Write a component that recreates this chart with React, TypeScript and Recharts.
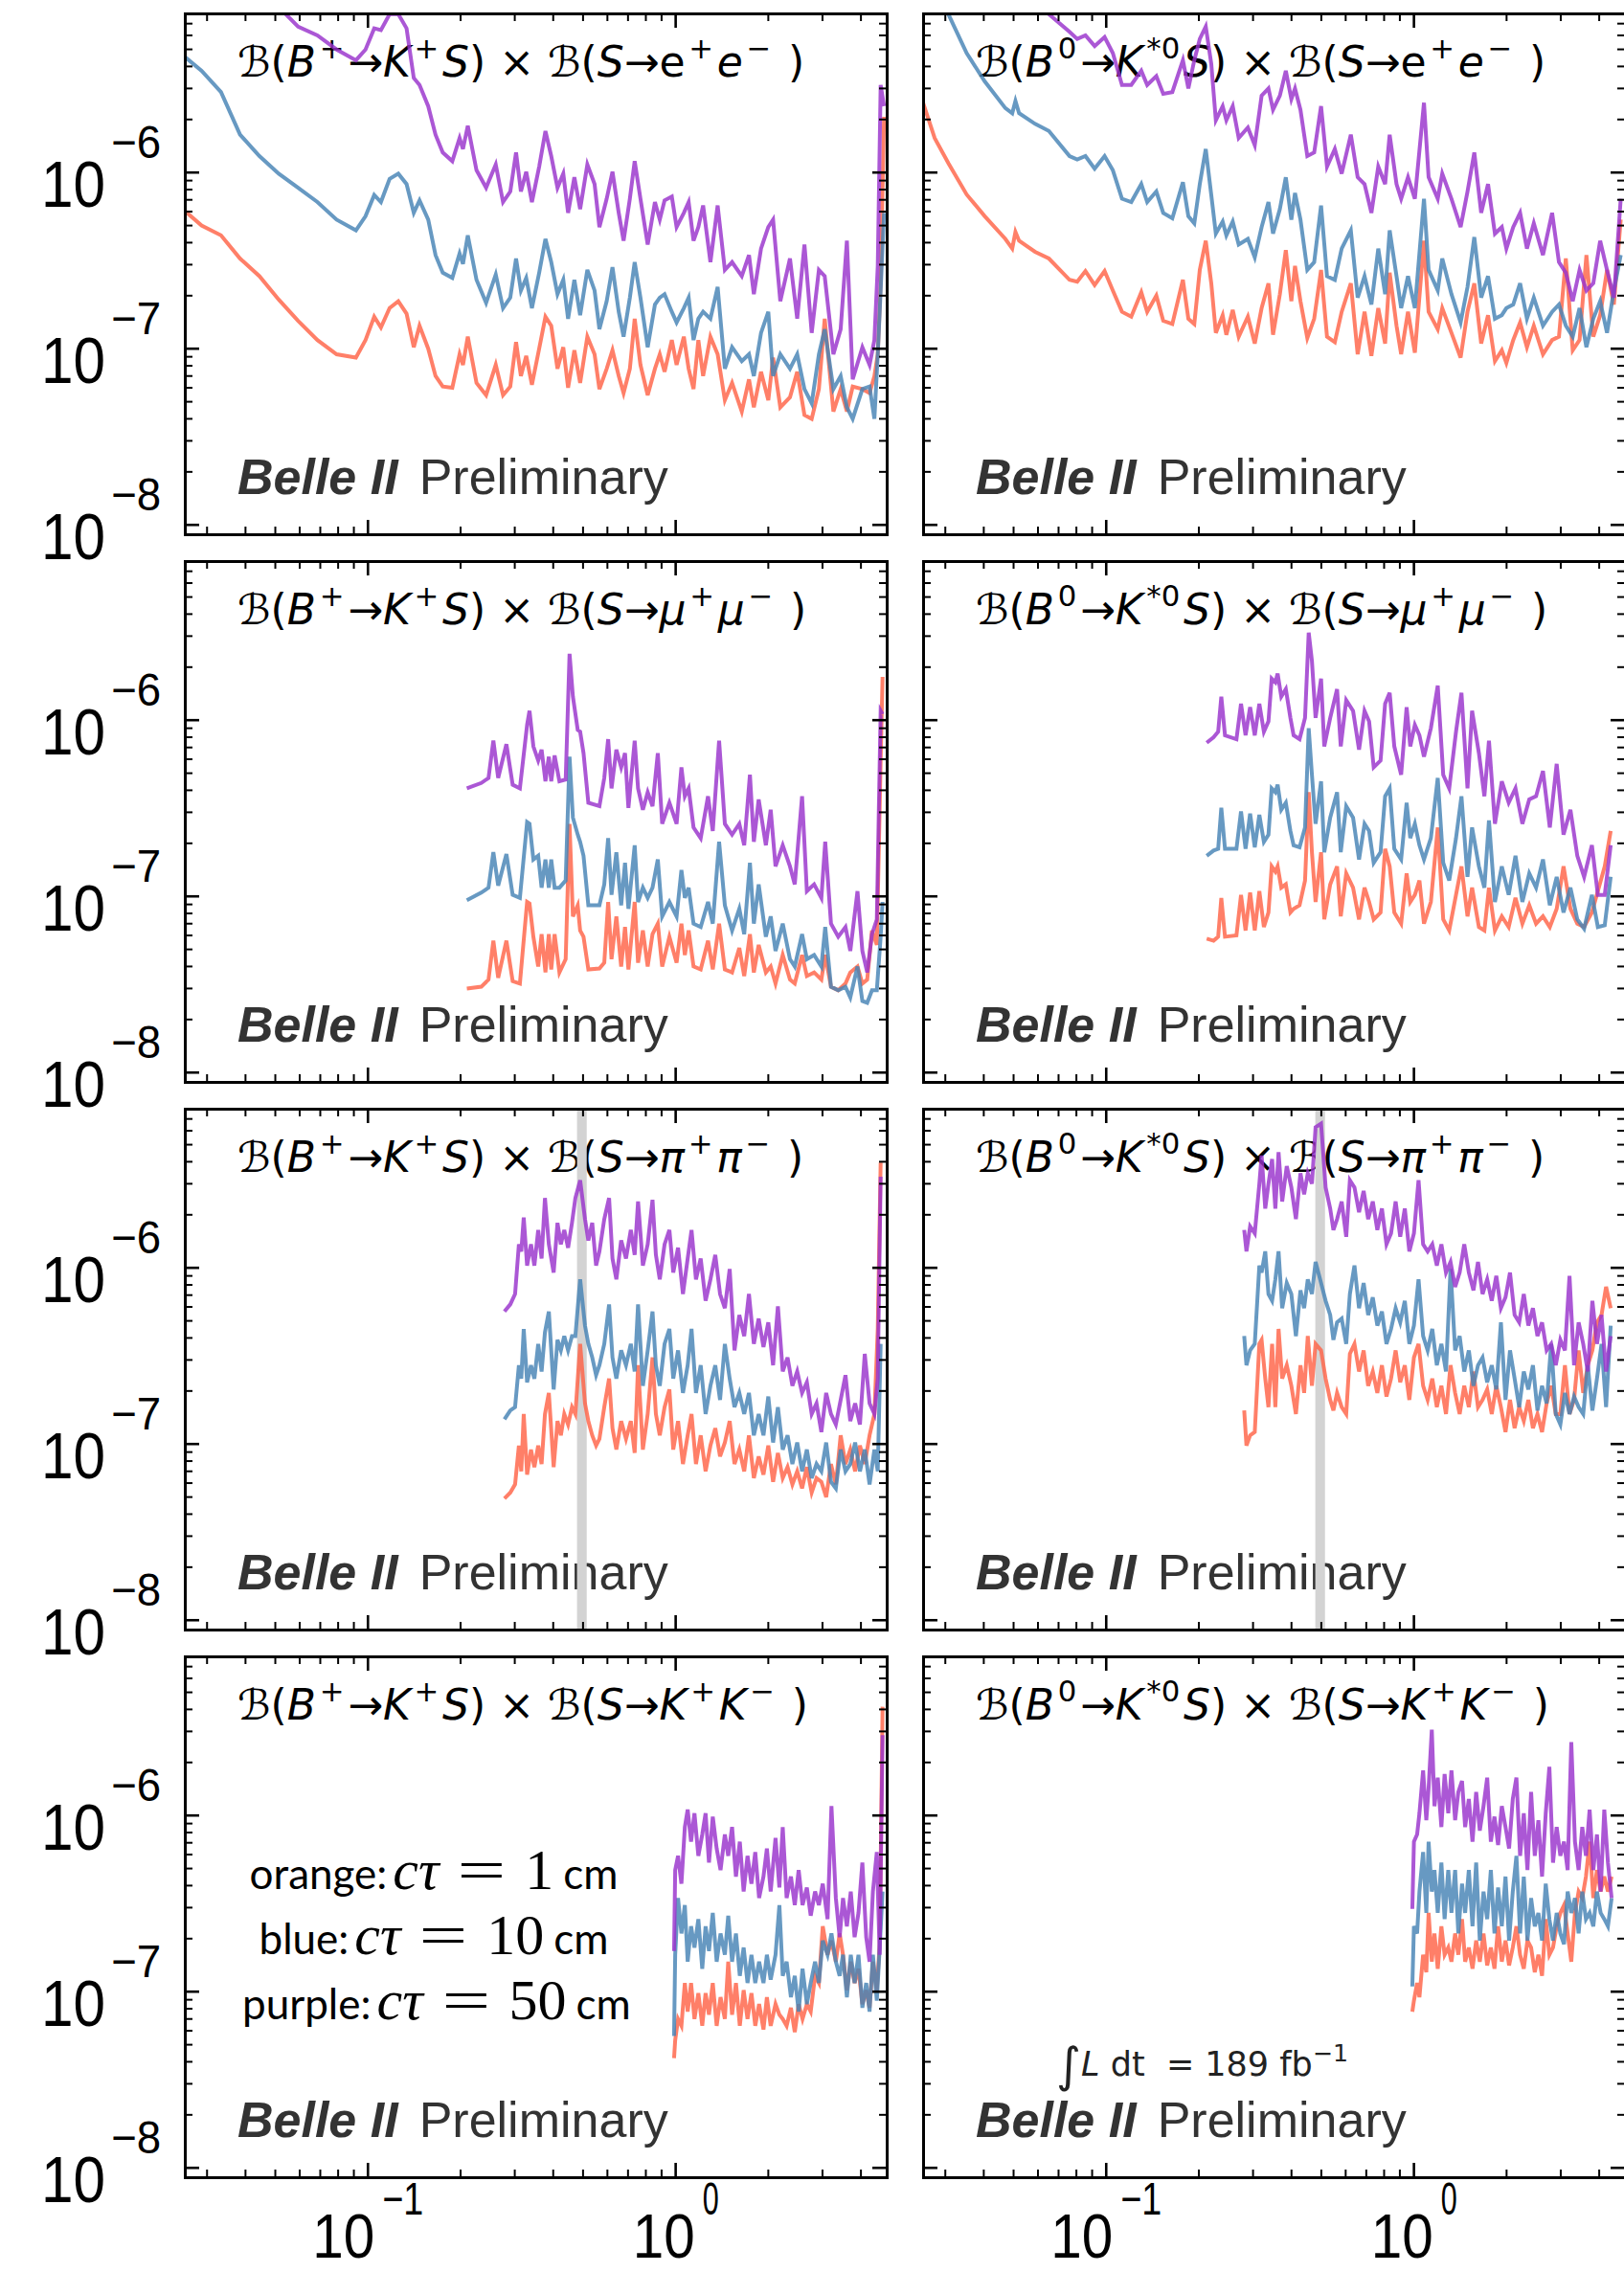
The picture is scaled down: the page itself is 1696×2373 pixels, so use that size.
import React from "react";
import { LineChart, Line, XAxis, YAxis, ReferenceArea } from "recharts";

// all branching-fraction values below are in units of 1e-8
const UNIT = 1e-8;

const X_DOMAIN: [number, number] = [0.0254, 4.85];
const Y_DOMAIN: [number, number] = [8.85e-9, 8e-6];
const X_TICKS = [0.03, 0.04, 0.05, 0.06, 0.07, 0.08, 0.09, 0.1, 0.2, 0.3, 0.4, 0.5, 0.6, 0.7, 0.8, 0.9, 1, 2, 3, 4];
const Y_TICKS = [
  1e-8, 2e-8, 3e-8, 4e-8, 5e-8, 6e-8, 7e-8, 8e-8, 9e-8,
  1e-7, 2e-7, 3e-7, 4e-7, 5e-7, 6e-7, 7e-7, 8e-7, 9e-7,
  1e-6, 2e-6, 3e-6, 4e-6, 5e-6, 6e-6, 7e-6,
];
const KS_VETO: [number, number] = [0.478, 0.514];

const COLORS = { orange: "tomato", blue: "steelblue", purple: "darkorchid" };

// B+ -> K+ S, S -> e+ e-
const kpEeMass = [0.0254, 0.0288, 0.0333, 0.0384, 0.0444, 0.0513, 0.0593, 0.0685, 0.0791, 0.0914, 0.0982, 0.1048, 0.1102, 0.1176, 0.1255, 0.1335, 0.1409, 0.1471, 0.157, 0.1658, 0.175, 0.188, 0.1985, 0.2036, 0.2111, 0.2253, 0.2421, 0.2602, 0.2748, 0.2901, 0.3029, 0.3141, 0.3268, 0.3411, 0.3601, 0.3774, 0.3941, 0.413, 0.4313, 0.4471, 0.4686, 0.4893, 0.5164, 0.5451, 0.5652, 0.5968, 0.6232, 0.6531, 0.6772, 0.7098, 0.7359, 0.7683, 0.8111, 0.8563, 0.8878, 0.9203, 0.9716, 1.007, 1.063, 1.102, 1.143, 1.185, 1.228, 1.297, 1.369, 1.445, 1.525, 1.64, 1.731, 1.795, 1.894, 2.0, 2.073, 2.188, 2.352, 2.483, 2.621, 2.767, 2.92, 3.05, 3.255, 3.437, 3.601, 3.761, 4.043, 4.267, 4.424, 4.537, 4.636, 4.755];
const kpEeOrange = [60.5, 50, 44, 32.5, 25.8, 19, 14.4, 11.2, 9.3, 8.9, 11.2, 15.2, 13.2, 17, 18.6, 15.8, 10.2, 13.5, 10, 7.0, 6.1, 6.0, 9.3, 8.1, 11.7, 6.4, 5.45, 8.1, 5.45, 6.1, 10.9, 7.0, 9.1, 6.25, 10, 15.2, 13.5, 7.7, 10.2, 6.0, 9.8, 6.4, 11.7, 9.3, 5.9, 7.7, 9.8, 7.0, 5.6, 7.7, 14.8, 8.1, 5.45, 7.7, 9.3, 7.4, 11.2, 8.1, 11.7, 7.7, 5.9, 11.2, 7.0, 11.7, 9.3, 5.1, 6.4, 4.4, 6.7, 4.65, 7.4, 5.1, 8.9, 4.65, 5.3, 7.4, 4.2, 4.0, 5.9, 14.8, 4.4, 5.9, 4.4, 6.1, 5.9, 5.6, 7.0, 9.3, 23.5, 207];
const kpEeBlue = [454, 378, 286, 164, 124, 98.5, 82, 68, 54, 47, 56.5, 74.5, 68, 92, 98.5, 86, 59, 69.5, 54, 34, 27, 25.2, 34.7, 30.3, 44, 24.6, 18.2, 26.4, 17, 19.5, 32.5, 21.4, 25.2, 17, 27, 42, 31, 20.4, 24.6, 14.8, 24.6, 15.5, 28, 21.4, 12.9, 18.6, 29, 16.2, 11.7, 19.5, 31, 19.5, 10.2, 17.8, 19.5, 20.4, 16.2, 14.1, 17, 19.5, 11.2, 14.8, 16.2, 14.8, 22.4, 7.7, 10.2, 8.5, 9.3, 7.0, 12.3, 16.2, 7.0, 9.3, 7.7, 9.3, 5.9, 4.9, 9.3, 12.9, 5.9, 7.0, 4.65, 4.0, 5.9, 6.1, 4.0, 9.3, 21.4, 59];
const kpEePurple = [2400, 2000, 1580, 1260, 1050, 869, 673, 600, 499, 434, 499, 658, 643, 792, 792, 658, 344, 314, 238, 164, 130, 116, 157, 136, 184, 103, 82, 111, 68, 78, 130, 78, 101, 68, 108, 172, 124, 82, 98.5, 59, 94, 62, 111, 86, 49, 71, 101, 59, 41, 71, 116, 71, 39, 68, 54, 69.5, 73, 49, 59, 68, 41, 49, 65, 31, 65, 28, 31, 25.8, 34, 20.4, 37, 49, 54, 18.6, 32.5, 14.8, 39, 12.3, 28, 25.8, 9.3, 12.9, 41, 6.7, 10.2, 8.1, 11.2, 29.5, 314, 238];

// B0 -> K*0 S, S -> e+ e-
const kstEeMass = [0.0254, 0.0277, 0.0307, 0.0352, 0.0403, 0.047, 0.0495, 0.0507, 0.0521, 0.0587, 0.0651, 0.076, 0.0805, 0.0856, 0.0917, 0.0988, 0.1051, 0.1125, 0.1206, 0.13, 0.1359, 0.1455, 0.1532, 0.164, 0.1775, 0.1849, 0.1933, 0.2014, 0.2106, 0.2195, 0.2271, 0.239, 0.2457, 0.2577, 0.2695, 0.2886, 0.3039, 0.3199, 0.3367, 0.3484, 0.3667, 0.3834, 0.3996, 0.4107, 0.4278, 0.4503, 0.4741, 0.4991, 0.5218, 0.5532, 0.5823, 0.6236, 0.6564, 0.691, 0.7274, 0.7657, 0.806, 0.8339, 0.8778, 0.9087, 0.9565, 1.007, 1.078, 1.116, 1.195, 1.236, 1.324, 1.418, 1.493, 1.571, 1.654, 1.741, 1.833, 1.93, 1.997, 2.102, 2.213, 2.329, 2.452, 2.626, 2.812, 2.96, 3.116, 3.281, 3.453, 3.635, 3.827, 4.029, 4.241, 4.464, 4.699];
const kstEeOrange = [249, 157, 113, 75, 56.5, 42, 37, 46, 41, 35.5, 32.5, 24.6, 24, 27.6, 23, 27.6, 21.4, 16.2, 15.2, 20.9, 16.2, 20, 14.4, 13.8, 24.6, 14.8, 13.8, 28, 41, 23.5, 12.3, 15.5, 12, 16.6, 11.7, 15.2, 10.7, 17, 23.5, 12, 20.4, 36.3, 18.6, 29.5, 18.6, 11.5, 14.8, 28, 11.7, 10.9, 16.2, 23.5, 9.3, 16.2, 9.1, 17, 10.7, 27, 13.5, 9.3, 16.2, 9.5, 41, 16.2, 12.9, 17, 12.3, 8.9, 16.2, 23.5, 10.7, 15.5, 8.5, 9.8, 8.3, 11.2, 14.1, 10.2, 13.5, 9.3, 11.2, 11.7, 32.5, 9.8, 11.2, 34, 11.7, 15.5, 28, 17.8, 54];
const kstEeBlue = [1900, 1150, 792, 476, 329, 232, 217, 255, 217, 189, 172, 124, 118.5, 124, 105, 124, 103, 71, 68, 86, 68, 78, 59, 55, 88, 56.5, 51.5, 86, 136, 74.5, 45, 52.7, 44, 52.7, 39, 42, 33, 49, 68, 45, 62, 94, 54, 76.5, 54, 28, 31, 65, 25.8, 24.6, 37, 47, 19.5, 25.8, 17.8, 37, 20.4, 47, 25.8, 17, 25.8, 17, 71, 28, 21.4, 32.5, 20.4, 14.1, 22.4, 43, 19.5, 25.8, 14.8, 15.5, 17, 17.8, 23.5, 14.8, 19.5, 13.5, 16.2, 17.8, 13.5, 11.7, 17, 10.2, 14.8, 18.6, 12.3, 21.4, 34];
const kstEePurple = [8700, 5300, 3600, 2200, 1500, 1100, 1050, 1000, 1000, 950, 792, 628, 573, 600, 522, 587, 476, 314, 314, 378, 314, 352, 280, 286, 434, 300, 434, 573, 673, 414, 198, 238, 198, 238, 157, 180, 143, 273, 300, 227, 273, 378, 261, 300, 227, 124, 130, 238, 108, 136, 98.5, 164, 94, 86, 59, 108, 86, 164, 86, 71, 94, 71, 249, 94, 71, 98.5, 71, 49, 78, 130, 59, 86, 45, 49, 37, 49, 59, 37, 51.5, 34, 59, 31, 27, 18.6, 28, 21.4, 23.5, 41, 28, 19.5, 71];

// B+ -> K+ S, S -> mu+ mu-
const kpMuMass = [0.2096, 0.2335, 0.2465, 0.2556, 0.265, 0.2818, 0.2953, 0.3117, 0.329, 0.335, 0.3448, 0.3575, 0.3667, 0.3774, 0.3871, 0.3941, 0.4042, 0.419, 0.4391, 0.452, 0.4635, 0.4805, 0.4893, 0.5018, 0.5203, 0.5652, 0.5861, 0.6034, 0.6188, 0.6416, 0.6651, 0.6846, 0.7022, 0.7359, 0.7547, 0.7824, 0.8111, 0.8409, 0.8749, 0.904, 0.9541, 1.007, 1.044, 1.071, 1.102, 1.143, 1.206, 1.274, 1.32, 1.384, 1.445, 1.525, 1.61, 1.67, 1.743, 1.795, 1.861, 1.964, 2.036, 2.111, 2.228, 2.352, 2.438, 2.575, 2.669, 2.818, 2.975, 3.062, 3.197, 3.375, 3.563, 3.694, 3.898, 4.043, 4.192, 4.345, 4.505, 4.636, 4.703];
const kpMuOrange = [3.0, 3.07, 3.37, 5.6, 3.45, 5.6, 3.3, 3.2, 9.3, 9.1, 5.9, 4.0, 6.1, 3.7, 6.1, 3.85, 6.1, 3.7, 4.4, 25.8, 7.7, 8.9, 6.4, 5.9, 3.85, 3.9, 4.2, 9.3, 4.4, 7.7, 4.0, 6.7, 3.85, 9.3, 4.2, 6.4, 4.0, 6.1, 7.0, 4.0, 5.9, 4.2, 7.0, 4.65, 6.4, 4.0, 3.85, 5.6, 3.85, 7.0, 3.85, 3.7, 5.1, 3.53, 6.1, 3.7, 5.3, 3.7, 4.0, 3.2, 4.65, 3.37, 3.2, 4.65, 3.53, 3.7, 3.37, 4.65, 3.07, 2.93, 3.2, 3.7, 4.0, 3.2, 3.37, 6.4, 5.3, 59, 176];
const kpMuBlue = [9.5, 10.5, 11.2, 17.8, 11.5, 17.4, 10.2, 9.8, 26.4, 25.8, 16.2, 17, 11.2, 16.2, 11.2, 16.2, 11.2, 11.2, 12.3, 62, 28, 22.4, 20.4, 17, 8.9, 8.9, 11.7, 21.4, 10.2, 17.8, 8.9, 15.5, 8.5, 19.5, 9.3, 11.2, 9.8, 11.2, 16.2, 7.7, 9.3, 7.7, 14.1, 9.8, 11.2, 7.0, 6.7, 9.3, 7.0, 20.4, 8.9, 6.4, 8.5, 6.1, 15.5, 7.0, 11.7, 5.9, 7.7, 4.9, 7.0, 4.4, 4.0, 6.1, 4.4, 4.65, 4.0, 6.7, 3.07, 2.93, 3.07, 2.67, 4.0, 2.55, 2.49, 2.93, 2.93, 5.9, 9.3];
const kpMuPurple = [41, 44, 47, 76.5, 47, 73, 43, 41, 94, 113, 71, 59, 68, 45, 62, 45, 63, 45, 46, 238, 136, 88, 86, 65, 34, 32.5, 47, 78, 41, 68, 54, 65, 31.8, 76.5, 41, 31, 39, 32.5, 65, 25.8, 34, 25.8, 54, 37, 41, 24.6, 21.4, 37, 23.5, 76.5, 25.8, 22.4, 25.8, 19.5, 49, 20.4, 35.5, 19.5, 31, 14.8, 19.5, 14.8, 11.7, 37, 10.7, 11.7, 9.8, 20.4, 7.0, 5.9, 6.7, 4.9, 10.7, 4.9, 3.7, 6.1, 7.4, 113, 108];

// B0 -> K*0 S, S -> mu+ mu-
const kstMuMass = [0.2121, 0.2233, 0.2311, 0.2366, 0.2432, 0.265, 0.2742, 0.2837, 0.2935, 0.3039, 0.3145, 0.3254, 0.3367, 0.3449, 0.3545, 0.3606, 0.3706, 0.3834, 0.3968, 0.4064, 0.4249, 0.4427, 0.455, 0.4661, 0.479, 0.4991, 0.5112, 0.5344, 0.5626, 0.5783, 0.6025, 0.6341, 0.6631, 0.691, 0.715, 0.74, 0.779, 0.806, 0.834, 0.8633, 0.9087, 0.9467, 0.973, 1.007, 1.042, 1.078, 1.135, 1.195, 1.245, 1.302, 1.37, 1.427, 1.493, 1.545, 1.626, 1.694, 1.753, 1.833, 1.93, 2.032, 2.138, 2.251, 2.37, 2.494, 2.626, 2.764, 2.91, 3.063, 3.225, 3.395, 3.573, 3.787, 3.96, 4.169, 4.359];
const kstMuOrange = [5.75, 5.6, 5.9, 9.8, 5.9, 6.0, 10.2, 6.4, 10.5, 6.4, 10.7, 6.7, 8.1, 14.8, 13.8, 14.8, 11.2, 11.7, 8.1, 8.5, 8.9, 12.3, 39, 17.8, 9.3, 17.8, 7.4, 11.7, 14.8, 7.7, 13.5, 11.2, 7.4, 11.2, 9.3, 7.4, 8.1, 18.6, 14.8, 8.1, 7.0, 13.5, 9.3, 10.2, 12.3, 7.0, 9.3, 24.6, 7.4, 6.4, 10.2, 14.8, 7.7, 11.2, 6.7, 6.4, 11.2, 6.4, 7.7, 6.7, 9.8, 7.0, 8.9, 7.0, 7.7, 6.7, 8.5, 14.8, 8.5, 7.0, 6.7, 8.1, 10.7, 14.8, 23.5];
const kstMuBlue = [17, 18.2, 18.6, 31.8, 18.6, 18.6, 30.3, 18.6, 29.5, 19, 29, 20.4, 22.4, 41, 39, 43, 31, 34, 23.5, 19.5, 19, 24.6, 90, 49, 25.8, 45, 17.8, 28, 39, 17.8, 32.5, 28, 16.2, 25.8, 23.5, 15.5, 17.8, 37, 41, 18.6, 16.2, 34, 21.4, 25.8, 19.5, 16.2, 21.4, 47, 15.5, 12.3, 21.4, 37, 12.9, 24.6, 14.8, 11.2, 27, 9.3, 14.8, 10.2, 17, 9.3, 13.5, 11.2, 16.2, 8.9, 12.9, 8.1, 11.2, 7.4, 6.55, 10.2, 6.7, 6.85, 12.9];
const kstMuPurple = [74.5, 80, 86, 136, 82, 78, 124, 82, 118.5, 82, 124, 86, 98.5, 172, 164, 184, 136, 150, 103, 82, 78, 103, 314, 217, 103, 172, 71, 103, 150, 71, 130, 113, 68, 113, 98.5, 54, 59, 124, 143, 71, 49, 118.5, 71, 94, 82, 62, 90, 157, 49, 41, 86, 143, 41, 113, 65, 37, 76.5, 25.8, 45, 34, 41, 25.8, 35.5, 37, 51.5, 24.6, 56.5, 22.4, 31, 17, 12.9, 19.5, 10.2, 10.2, 19.5];

// B+ -> K+ S, S -> pi+ pi-
const kpPiMass = [0.2777, 0.2901, 0.3007, 0.3094, 0.315, 0.3208, 0.329, 0.3387, 0.3474, 0.3575, 0.3667, 0.376, 0.3871, 0.4013, 0.413, 0.4236, 0.4345, 0.4471, 0.4603, 0.4721, 0.4893, 0.5074, 0.5203, 0.5356, 0.5513, 0.5652, 0.5861, 0.6076, 0.6232, 0.6416, 0.6651, 0.6896, 0.7149, 0.7359, 0.7547, 0.7824, 0.8111, 0.8409, 0.8624, 0.8878, 0.9203, 0.9541, 0.9821, 1.018, 1.056, 1.094, 1.126, 1.164, 1.206, 1.251, 1.297, 1.345, 1.394, 1.445, 1.498, 1.553, 1.61, 1.67, 1.73, 1.795, 1.861, 1.929, 2.0, 2.073, 2.149, 2.228, 2.31, 2.395, 2.483, 2.575, 2.669, 2.767, 2.869, 2.975, 3.084, 3.197, 3.315, 3.437, 3.563, 3.694, 3.83, 3.97, 4.116, 4.267, 4.424, 4.537, 4.636];
const kpPiOrange = [4.9, 5.3, 5.9, 9.8, 7.0, 14.8, 6.7, 9.3, 7.4, 9.8, 7.7, 14.8, 19.5, 7.4, 13.5, 11.2, 14.8, 12.9, 16.2, 14.8, 37, 17, 13.5, 11.2, 9.8, 10.7, 16.2, 23.5, 12.3, 9.3, 13.5, 10.7, 13.5, 8.9, 28, 9.3, 14.8, 31, 14.8, 11.2, 16.2, 20.4, 9.3, 13.5, 7.7, 11.2, 14.8, 7.7, 11.2, 7.0, 9.8, 12.3, 8.5, 10.2, 13.5, 7.7, 9.3, 7.0, 11.2, 6.4, 8.5, 6.7, 9.8, 6.1, 8.9, 6.4, 7.4, 5.9, 7.0, 5.6, 7.4, 5.3, 6.4, 6.1, 5.0, 7.7, 5.9, 11.2, 7.7, 9.3, 7.0, 9.8, 7.7, 11.2, 14.8, 45, 396];
const kpPiBlue = [13.8, 15.5, 16.2, 28, 23.5, 45, 22.4, 28, 23.5, 37, 25.8, 43, 56.5, 20.4, 39, 34, 41, 34, 41, 41, 86, 47, 37, 31, 24.6, 28, 37, 62, 31, 23.5, 34, 28, 37, 25.8, 62, 21.4, 34, 56.5, 28, 21.4, 37, 45, 23.5, 34, 19.5, 28, 45, 19.5, 28, 14.8, 21.4, 28, 17.8, 37, 23.5, 16.2, 19.5, 14.8, 19.5, 11.2, 14.8, 11.2, 18.6, 10.2, 16.2, 9.3, 11.2, 7.7, 10.2, 7.0, 9.3, 6.4, 7.7, 7.0, 10.2, 6.1, 5.6, 9.3, 7.0, 7.7, 10.2, 7.0, 9.3, 5.9, 9.3, 7.0, 37];
const kpPiPurple = [56.5, 62, 71, 136, 124, 193, 103, 136, 103, 164, 113, 249, 136, 94, 180, 136, 164, 130, 180, 249, 314, 189, 143, 180, 103, 124, 189, 249, 113, 86, 143, 113, 164, 118.5, 238, 103, 136, 243, 118.5, 86, 136, 164, 94, 130, 71, 113, 164, 86, 113, 65, 86, 118.5, 71, 59, 98.5, 34, 54, 41, 71, 37, 51.5, 35.5, 49, 28, 60.5, 25.8, 31, 21.4, 25.8, 19.5, 22.4, 14.8, 17, 11.7, 19.5, 14.8, 12.9, 17.8, 24.6, 13.5, 17, 12.9, 32.5, 17, 14.8, 23.5, 329];

// B0 -> K*0 S, S -> pi+ pi-
const kstPiMass = [0.2808, 0.2856, 0.2935, 0.3039, 0.3145, 0.3199, 0.3287, 0.3367, 0.346, 0.3545, 0.3631, 0.3731, 0.3861, 0.3996, 0.4135, 0.4278, 0.4397, 0.4519, 0.4661, 0.479, 0.4991, 0.5164, 0.5344, 0.5474, 0.5626, 0.5823, 0.6025, 0.6192, 0.6408, 0.6631, 0.6863, 0.7101, 0.7349, 0.7604, 0.7869, 0.8143, 0.8426, 0.8721, 0.9024, 0.9339, 0.9663, 1.0, 1.035, 1.071, 1.108, 1.147, 1.187, 1.228, 1.271, 1.315, 1.361, 1.408, 1.457, 1.508, 1.561, 1.615, 1.671, 1.73, 1.79, 1.852, 1.917, 1.984, 2.052, 2.124, 2.198, 2.275, 2.354, 2.436, 2.52, 2.608, 2.699, 2.793, 2.89, 2.991, 3.095, 3.203, 3.314, 3.429, 3.549, 3.672, 3.801, 3.933, 4.07, 4.211, 4.359];
const kstPiOrange = [15.5, 9.8, 11.2, 11.7, 37, 39, 23.5, 16.2, 37, 16.2, 45, 23.5, 28, 21.4, 14.8, 28, 19.5, 41, 21.4, 37, 34, 23.5, 17.8, 15.5, 19.5, 16.2, 14.8, 32.5, 37, 25.8, 34, 21.4, 25.8, 19.5, 28, 18.6, 23.5, 34, 22.4, 28, 17.8, 31, 37, 21.4, 17.8, 23.5, 16.2, 21.4, 14.8, 28, 19.5, 14.8, 21.4, 16.2, 25.8, 16.2, 17.8, 20.4, 14.8, 21.4, 16.2, 11.7, 17.8, 12.3, 16.2, 13.5, 17.8, 12.3, 14.8, 11.7, 17, 21.4, 14.8, 14.8, 28, 14.8, 17.8, 34, 19.5, 28, 34, 49, 54, 78, 59];
const kstPiBlue = [41, 28, 34, 37, 103, 94, 124, 71, 65, 86, 124, 59, 82, 71, 41, 74.5, 59, 86, 71, 108, 82, 65, 54, 39, 49, 51.5, 37, 71, 103, 59, 82, 54, 68, 47, 56.5, 37, 45, 59, 49, 65, 37, 47, 86, 41, 34, 45, 28, 37, 25.8, 98.5, 34, 41, 25.8, 34, 21.4, 28, 31, 22.4, 28, 20.4, 49, 17.8, 34, 23.5, 16.2, 25.8, 20.4, 28, 15.5, 21.4, 17, 37, 14.8, 12.9, 19.5, 14.8, 18.6, 16.2, 14.8, 28, 15.5, 23.5, 37, 16.2, 47];
const kstPiPurple = [164, 124, 172, 157, 300, 434, 217, 300, 414, 217, 454, 238, 378, 286, 189, 344, 261, 344, 300, 628, 658, 286, 217, 164, 189, 238, 150, 314, 286, 207, 273, 189, 238, 164, 217, 136, 157, 238, 150, 217, 124, 157, 314, 136, 124, 136, 103, 136, 94, 108, 78, 94, 136, 94, 74.5, 108, 71, 86, 65, 90, 59, 68, 94, 54, 49, 71, 47, 59, 41, 49, 34, 37, 28, 39, 34, 90, 28, 49, 37, 25.8, 65, 37, 54, 25.8, 41];

// B+ -> K+ S, S -> K+ K-
const kpKkMass = [0.988, 0.9964, 1.018, 1.044, 1.071, 1.094, 1.122, 1.151, 1.185, 1.22, 1.251, 1.283, 1.32, 1.359, 1.399, 1.445, 1.482, 1.525, 1.57, 1.616, 1.663, 1.712, 1.763, 1.814, 1.867, 1.929, 1.979, 2.036, 2.111, 2.173, 2.228, 2.294, 2.369, 2.438, 2.51, 2.584, 2.669, 2.747, 2.838, 2.92, 3.006, 3.116, 3.208, 3.315, 3.411, 3.498, 3.601, 3.707, 3.815, 3.927, 4.043, 4.161, 4.267, 4.375, 4.505, 4.603, 4.703];
const kpKkOrange = [4.2, 5.3, 7.0, 6.4, 11.2, 7.7, 11.2, 7.0, 9.8, 6.4, 9.8, 7.4, 11.2, 6.4, 9.3, 7.0, 14.8, 7.4, 11.2, 6.4, 10.2, 7.0, 9.8, 6.4, 8.5, 6.1, 9.3, 6.4, 8.5, 7.4, 7.0, 6.4, 8.1, 5.9, 8.5, 7.0, 8.5, 7.7, 12.3, 11.2, 23.5, 16.2, 19.5, 14.8, 21.4, 16.2, 10.2, 14.8, 11.2, 13.5, 8.5, 10.2, 8.1, 14.8, 10.2, 18.6, 414];
const kpKkBlue = [5.6, 16.2, 34, 21.4, 31, 14.8, 23.5, 17.8, 25.8, 13.5, 23.5, 17, 28, 14.8, 21.4, 16.2, 27, 14.8, 21.4, 12.3, 17.8, 11.2, 16.2, 11.2, 14.8, 11.2, 16.2, 11.7, 16.2, 31, 12.3, 14.8, 9.3, 12.3, 7.7, 13.5, 8.5, 11.2, 14.8, 11.2, 19.5, 16.2, 21.4, 14.8, 12.3, 16.2, 9.3, 16.2, 11.2, 16.2, 8.1, 11.2, 7.7, 16.2, 8.9, 17.8, 37];
const kpKkPurple = [17, 49, 59, 41, 86, 108, 71, 103, 59, 78, 103, 54, 98.5, 65, 49, 78, 59, 86, 45, 71, 37, 59, 41, 62, 34, 45, 65, 37, 74.5, 39, 86, 34, 45, 31, 49, 31, 39, 27, 37, 31, 41, 25.8, 113, 34, 20.4, 34, 23.5, 37, 20.4, 28, 54, 20.4, 14.8, 37, 62, 16.2, 286];

// B0 -> K*0 S, S -> K+ K-
const kstKkMass = [0.988, 1.0, 1.024, 1.042, 1.071, 1.097, 1.116, 1.143, 1.166, 1.195, 1.228, 1.258, 1.293, 1.324, 1.361, 1.394, 1.433, 1.467, 1.508, 1.55, 1.593, 1.637, 1.683, 1.73, 1.778, 1.827, 1.877, 1.93, 1.984, 2.038, 2.095, 2.153, 2.213, 2.275, 2.338, 2.403, 2.47, 2.538, 2.608, 2.681, 2.755, 2.831, 2.91, 2.991, 3.074, 3.159, 3.246, 3.336, 3.429, 3.524, 3.622, 3.723, 3.827, 3.933, 4.043, 4.155, 4.27, 4.389];
const kstKkOrange = [7.7, 8.9, 11.2, 9.3, 16.2, 12.9, 28, 14.8, 21.4, 13.5, 23.5, 16.2, 17.8, 14.8, 21.4, 16.2, 25.8, 14.8, 17.8, 13.5, 19.5, 14.8, 21.4, 14.1, 17.8, 13.5, 23.5, 14.8, 19.5, 14.1, 17.8, 23.5, 16.2, 13.5, 19.5, 17.8, 12.9, 16.2, 12.3, 25.8, 16.2, 17.8, 23.5, 28, 31, 21.4, 14.8, 28, 37, 34, 45, 71, 34, 49, 37, 45, 37, 45];
const kstKkBlue = [10.7, 23.5, 21.4, 37, 62, 28, 71, 37, 49, 28, 54, 25.8, 49, 28, 49, 21.4, 41, 28, 49, 23.5, 54, 19.5, 37, 25.8, 49, 21.4, 39, 23.5, 45, 19.5, 37, 59, 21.4, 45, 19.5, 34, 23.5, 28, 19.5, 41, 25.8, 19.5, 28, 21.4, 18.6, 37, 28, 34, 21.4, 37, 25.8, 28, 23.5, 37, 28, 25.8, 23.5, 34];
const kstKkPurple = [29.5, 71, 78, 103, 180, 94, 143, 307, 113, 164, 86, 172, 103, 180, 94, 136, 157, 86, 124, 71, 136, 82, 113, 164, 71, 98.5, 68, 113, 86, 65, 124, 164, 59, 103, 49, 136, 59, 94, 45, 103, 189, 54, 86, 59, 71, 49, 261, 71, 49, 86, 59, 108, 49, 78, 37, 108, 54, 34];

const LEGEND = [
  { name: "orange", ctau: "1" },
  { name: "blue", ctau: "10" },
  { name: "purple", ctau: "50" },
];

// page geometry
const PLOT_W = 733;
const PLOT_H = 544;
const COL_LEFT = [193, 964];
const ROW_TOP = [14, 586, 1158, 1730];
const AXIS = 1; // recharts skips axes of zero size, so they get 1px

const isMajor = (v: number) => {
  const l = Math.log10(v);
  return Math.abs(l - Math.round(l)) < 1e-6;
};
const expLabel = (v: number) => {
  const e = Math.round(Math.log10(v));
  return e < 0 ? "\u2212" + -e : String(e);
};

function XTick({ x, y, payload, label }: any) {
  const v = payload.value;
  const major = isMajor(v);
  const len = major ? 15 : 8;
  const sw = major ? 2.6 : 2;
  const sup = expLabel(v);
  const supW = sup.length > 1 ? 43 : 17;
  const start = x - (65 + 8 + supW) / 2;
  return (
    <g>
      <line x1={x} x2={x} y1={y} y2={y - len} stroke="#000" strokeWidth={sw} />
      <line x1={x} x2={x} y1={y - PLOT_H} y2={y - PLOT_H + len} stroke="#000" strokeWidth={sw} />
      {label && major && (
        <g fill="#000" fontFamily="'Liberation Sans', Arial, sans-serif">
          <text x={start} y={y + 84} fontSize={64} textLength={65} lengthAdjust="spacingAndGlyphs">10</text>
          <text x={start + 73} y={y + 39} fontSize={48} textLength={supW} lengthAdjust="spacingAndGlyphs">{sup}</text>
        </g>
      )}
    </g>
  );
}

function YTick({ x, y, payload, label }: any) {
  const v = payload.value;
  const major = isMajor(v);
  const len = major ? 15 : 8;
  const sw = major ? 2.6 : 2;
  return (
    <g>
      <line x1={x} x2={x + len} y1={y} y2={y} stroke="#000" strokeWidth={sw} />
      <line x1={x + PLOT_W} x2={x + PLOT_W - len} y1={y} y2={y} stroke="#000" strokeWidth={sw} />
      {label && major && (
        <g fill="#000" fontFamily="'Liberation Sans', Arial, sans-serif">
          <text x={x - 150} y={y + 36} fontSize={68} textLength={67} lengthAdjust="spacingAndGlyphs">10</text>
          <text x={x - 77} y={y - 15} fontSize={48} textLength={52} lengthAdjust="spacingAndGlyphs">{expLabel(v)}</text>
        </g>
      )}
    </g>
  );
}

const Sup = ({ children }: { children: React.ReactNode }) => (
  <span style={{ fontSize: "0.7em", position: "relative", top: "-0.62em", margin: "0 0.12em" }}>{children}</span>
);

function Formula({ neutral, a, b }: { neutral: boolean; a: React.ReactNode; b: React.ReactNode }) {
  return (
    <span>
      {"\u212C("}<i>B</i><Sup>{neutral ? "0" : "+"}</Sup>→<i>K</i><Sup>{neutral ? "*0" : "+"}</Sup><i>S</i>
      {") \u00D7 \u212C("}<i>S</i>→{a}<Sup>+</Sup>{b}<Sup>−</Sup>{" )"}
    </span>
  );
}

type PanelProps = {
  row: number;
  col: number;
  title: React.ReactNode;
  mass: number[];
  orange: number[];
  blue: number[];
  purple: number[];
  veto?: boolean;
};

function Panel({ row, col, title, mass, orange, blue, purple, veto }: PanelProps) {
  const plotLeft = COL_LEFT[col];
  const plotTop = ROW_TOP[row];
  const chartLeft = col === 0 ? 0 : 945;
  const mLeft = plotLeft - chartLeft;
  const data = mass.map((m, i) => ({
    m,
    orange: orange[i] * UNIT,
    blue: blue[i] * UNIT,
    purple: purple[i] * UNIT,
  }));
  const lineProps = { type: "linear" as const, dot: false, strokeWidth: 4, strokeOpacity: 0.82, isAnimationActive: false };

  return (
    <>
      <div
        style={{
          position: "absolute", left: plotLeft + 55, top: plotTop + 29, fontSize: 44, lineHeight: 1,
          fontFamily: "'DejaVu Sans', sans-serif", whiteSpace: "nowrap", color: "#000",
        }}
      >
        {title}
      </div>
      <div
        style={{
          position: "absolute", left: plotLeft + 55, top: plotTop + 458, fontSize: 52, lineHeight: 1,
          fontFamily: "'Liberation Sans', Arial, sans-serif", whiteSpace: "nowrap", color: "#333",
        }}
      >
        <span style={{ fontWeight: 700, fontStyle: "italic", marginRight: 22 }}>Belle II</span>Preliminary
      </div>
      <div style={{ position: "absolute", left: chartLeft, top: plotTop - 14 }}>
        <LineChart
          width={mLeft + PLOT_W + 20}
          height={14 + PLOT_H + 110}
          data={data}
          margin={{ top: 14, right: 20, bottom: 110 - AXIS, left: mLeft - AXIS }}
        >
          <XAxis
            dataKey="m"
            type="number"
            scale="log"
            domain={X_DOMAIN}
            allowDataOverflow
            ticks={X_TICKS}
            interval={0}
            height={AXIS}
            tickSize={0}
            tickMargin={0}
            axisLine={false}
            tickLine={false}
            tick={(p: any) => <XTick {...p} label={row === 3} />}
          />
          <YAxis
            type="number"
            scale="log"
            domain={Y_DOMAIN}
            allowDataOverflow
            ticks={Y_TICKS}
            interval={0}
            width={AXIS}
            tickSize={0}
            tickMargin={0}
            axisLine={false}
            tickLine={false}
            tick={(p: any) => <YTick {...p} label={col === 0} />}
          />
          <Line dataKey="orange" stroke={COLORS.orange} {...lineProps} />
          <Line dataKey="blue" stroke={COLORS.blue} {...lineProps} />
          <Line dataKey="purple" stroke={COLORS.purple} {...lineProps} />
          {veto && (
            <ReferenceArea x1={KS_VETO[0]} x2={KS_VETO[1]} fill="#d3d3d3" fillOpacity={1} stroke="none" ifOverflow="hidden" />
          )}
        </LineChart>
      </div>
      <div
        style={{
          position: "absolute", left: plotLeft - 1.5, top: plotTop - 1.5, width: PLOT_W + 3, height: PLOT_H + 3,
          border: "3px solid #000", boxSizing: "border-box", pointerEvents: "none",
        }}
      />
    </>
  );
}

const PANELS: (PanelProps & { id: string })[] = [
  { id: "kpEe", row: 0, col: 0, title: <Formula neutral={false} a="e" b={<i>e</i>} />, mass: kpEeMass, orange: kpEeOrange, blue: kpEeBlue, purple: kpEePurple },
  { id: "kstEe", row: 0, col: 1, title: <Formula neutral a="e" b={<i>e</i>} />, mass: kstEeMass, orange: kstEeOrange, blue: kstEeBlue, purple: kstEePurple },
  { id: "kpMu", row: 1, col: 0, title: <Formula neutral={false} a={<i>μ</i>} b={<i>μ</i>} />, mass: kpMuMass, orange: kpMuOrange, blue: kpMuBlue, purple: kpMuPurple },
  { id: "kstMu", row: 1, col: 1, title: <Formula neutral a={<i>μ</i>} b={<i>μ</i>} />, mass: kstMuMass, orange: kstMuOrange, blue: kstMuBlue, purple: kstMuPurple },
  { id: "kpPi", row: 2, col: 0, title: <Formula neutral={false} a={<i>π</i>} b={<i>π</i>} />, mass: kpPiMass, orange: kpPiOrange, blue: kpPiBlue, purple: kpPiPurple, veto: true },
  { id: "kstPi", row: 2, col: 1, title: <Formula neutral a={<i>π</i>} b={<i>π</i>} />, mass: kstPiMass, orange: kstPiOrange, blue: kstPiBlue, purple: kstPiPurple, veto: true },
  { id: "kpKk", row: 3, col: 0, title: <Formula neutral={false} a={<i>K</i>} b={<i>K</i>} />, mass: kpKkMass, orange: kpKkOrange, blue: kpKkBlue, purple: kpKkPurple },
  { id: "kstKk", row: 3, col: 1, title: <Formula neutral a={<i>K</i>} b={<i>K</i>} />, mass: kstKkMass, orange: kstKkOrange, blue: kstKkBlue, purple: kstKkPurple },
];

const serif = "'Liberation Serif', 'DejaVu Serif', serif";

export default function App() {
  return (
    <div style={{ position: "absolute", left: 0, top: 0, width: 1696, height: 2373, overflow: "hidden", background: "#fff" }}>
      {PANELS.map(({ id, ...p }) => (
        <Panel key={id} {...p} />
      ))}
      <div style={{ position: "absolute", left: 253, top: 1921, width: 400, textAlign: "center", lineHeight: "65px", color: "#000" }}>
        {LEGEND.map((l) => (
          <div key={l.name} style={{ whiteSpace: "nowrap", fontFamily: "Lato, sans-serif", fontSize: 44 }}>
            {l.name}:
            <span style={{ fontFamily: serif, fontStyle: "italic", fontSize: 60, marginLeft: 6 }}>cτ</span>
            <span style={{ fontFamily: serif, fontSize: 60, display: "inline-block", transform: "scaleX(1.5)", margin: "0 28px" }}>=</span>
            <span style={{ fontFamily: serif, fontSize: 60 }}>{l.ctau}</span>
            <span style={{ marginLeft: 10 }}>cm</span>
          </div>
        ))}
      </div>
      <div style={{ position: "absolute", left: 1103, top: 2126, fontSize: 35, lineHeight: 1, fontFamily: "'DejaVu Sans', sans-serif", whiteSpace: "nowrap", color: "#222" }}>
        <span style={{ fontSize: 50, position: "relative", top: 6 }}>∫</span>
        <i>L</i> dt&nbsp; = 189 fb
        <span style={{ fontSize: "0.72em", position: "relative", top: "-0.6em" }}>−1</span>
      </div>
    </div>
  );
}
